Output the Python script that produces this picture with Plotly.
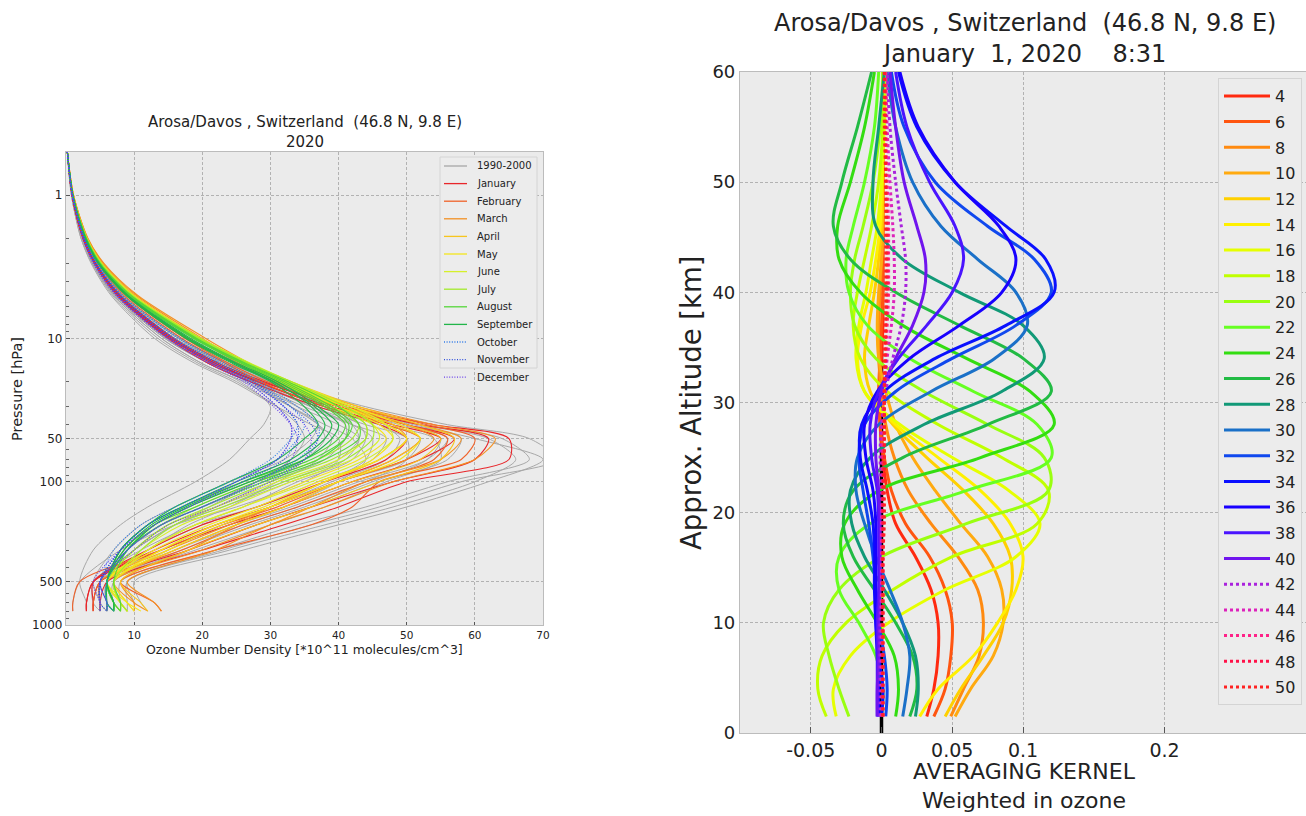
import plotly.graph_objects as go

# ---------------- LEFT PANEL DATA (ozone number density profiles) ----------------
PRESSURE_HPA = [0.5, 1, 2, 3, 5, 10, 15, 20, 30, 40, 50, 70, 100, 150, 200, 300, 500, 700, 800]

GREY_1990_2000 = [
    [0.2, 0.8, 2.2, 3.8, 6.8, 13.5, 19.5, 25, 31, 34, 35, 33, 28, 21, 16, 10, 5, 5, 5],
    [0.2, 0.9, 2.4, 4.0, 7.2, 14.5, 21, 27, 35, 42, 47, 45, 37, 28, 20, 12, 5, 5, 6],
    [0.2, 0.9, 2.6, 4.3, 7.8, 15.5, 22.5, 29, 40, 52, 64, 68, 56, 44, 34, 22, 8, 8, 8],
    [0.2, 1.0, 2.8, 4.6, 8.3, 16.5, 24, 31, 44, 56, 68, 72, 58, 46, 36, 23, 9, 10, 10],
    [0.2, 0.9, 2.5, 4.2, 7.5, 15, 21.5, 27.5, 36, 44, 50, 50, 44, 34, 26, 16, 6, 6, 7],
    [0.2, 1.0, 2.7, 4.5, 8.1, 16.5, 23.5, 30, 38, 43, 44, 42, 34, 26, 19, 12, 6, 7, 8],
    [0.2, 0.9, 2.4, 4.0, 7.2, 14.8, 21, 27, 33, 37, 38, 35, 28, 20, 14, 9, 5, 6, 6],
    [0.2, 0.9, 2.3, 3.9, 7.0, 14, 20, 25.5, 30, 29, 27, 24, 19, 12, 8, 4, 2, 3, 3],
    [0.2, 1.0, 2.6, 4.4, 8.0, 16, 23, 29.5, 40, 50, 58, 56, 46, 36, 28, 18, 7, 8, 9],
    [0.2, 0.9, 2.5, 4.1, 7.4, 15, 21.5, 27.5, 37, 46, 54, 55, 47, 38, 30, 19, 7, 7, 8],
    [0.2, 0.8, 2.2, 3.7, 6.6, 13, 19, 24.5, 31, 36, 40, 40, 35, 25, 16, 8, 2, 1, 1],
    [0.2, 1.0, 2.7, 4.5, 8.2, 16.5, 24, 31, 42, 52, 62, 66, 60, 48, 38, 24, 9, 9, 9],
    [0.2, 0.9, 2.5, 4.2, 7.6, 15.5, 22.5, 29, 39, 49, 56, 53, 43, 33, 25, 16, 6, 6, 7],
    [0.2, 0.9, 2.4, 4.1, 7.3, 14.8, 21, 27, 34, 40, 43, 41, 33, 23, 16, 10, 5, 5, 5],
    [0.2, 0.9, 2.5, 4.2, 7.5, 15.5, 22, 28, 36, 41, 41, 38, 30, 22, 16, 10, 5, 5, 6],
    [0.2, 1.0, 2.6, 4.4, 8.0, 16, 23.5, 30, 41, 51, 60, 70, 62, 50, 40, 26, 10, 11, 12],
    [0.2, 0.8, 2.3, 3.9, 7.0, 14, 20, 26, 33, 38, 42, 44, 40, 32, 24, 14, 5, 4, 4],
    [0.2, 0.9, 2.5, 4.2, 7.6, 15.2, 22, 28, 38, 47, 52, 50, 40, 30, 22, 14, 6, 6, 6],
    [0.2, 0.9, 2.5, 4.1, 7.4, 15, 21.5, 27.5, 36, 42, 45, 44, 38, 28, 19, 11, 4, 4, 5],
    [0.2, 1.0, 2.6, 4.3, 7.9, 16, 23, 29.5, 39, 46, 49, 47, 39, 30, 23, 15, 7, 8, 9],
    [0.2, 0.9, 2.4, 4.0, 7.2, 14.5, 21, 26.5, 33, 37, 39, 37, 31, 24, 18, 12, 6, 7, 7],
    [0.2, 1.0, 2.7, 4.6, 8.3, 16.8, 24, 31, 42, 50, 55, 53, 45, 35, 27, 17, 7, 8, 9],
    [0.2, 0.9, 2.4, 4.1, 7.4, 15.2, 22, 27.5, 34, 37, 36, 32, 24, 16, 11, 7, 4, 5, 5],
    [0.2, 1.0, 2.8, 4.8, 8.8, 17.5, 25, 30.5, 38, 42, 43, 40, 32, 22, 16, 10, 5, 6, 6],
]

JANUARY = [
    [0.2, 0.9, 2.6, 4.4, 8.0, 15.8, 22.5, 29, 40, 52, 62, 60, 48, 36, 28, 18, 5, 4, 4],
    [0.2, 0.9, 2.5, 4.2, 7.6, 15.3, 22, 28, 39, 50, 57, 52, 42, 32, 24, 14, 4, 3, 3],
    [0.2, 0.9, 2.6, 4.3, 7.8, 15.5, 22, 28.5, 41, 54, 65, 65, 50, 40, 32, 20, 6, 5, 5],
    [0.2, 0.9, 2.5, 4.2, 7.5, 15.0, 21, 27, 37, 46, 50, 47, 38, 28, 20, 12, 4, 4, 4],
    [0.2, 0.9, 2.5, 4.3, 7.7, 15.4, 21.5, 28, 38, 48, 55, 50, 40, 30, 22, 13, 4, 3, 3],
]
FEBRUARY = [
    [0.2, 1.0, 2.9, 4.9, 8.8, 17.5, 24, 29.5, 40, 50, 56, 54, 44, 34, 26, 17, 5, 4, 4],
    [0.2, 1.0, 2.8, 4.7, 8.5, 17, 23.5, 28.5, 38, 47, 52, 48, 40, 31, 23, 14, 2, 1, 1],
    [0.2, 1.0, 3.0, 5.0, 9.0, 18, 25, 30.5, 42, 53, 60, 58, 46, 42, 36, 22, 8, 13, 14],
]
MARCH = [
    [0.2, 1.1, 3.2, 5.5, 10.3, 20, 26.5, 31.5, 42, 52, 58, 55, 44, 36, 30, 20, 7, 10, 12],
    [0.2, 1.1, 3.2, 5.6, 10.5, 20.5, 27, 32, 41, 50, 54, 50, 40, 30, 24, 15, 5, 5, 5],
    [0.2, 1.1, 3.1, 5.4, 10.0, 19.5, 26.5, 32, 43, 54, 63, 60, 48, 38, 30, 22, 9, 13, 14],
    [0.2, 1.0, 3.0, 5.2, 9.6, 19, 25.5, 30.5, 40, 48, 50, 46, 38, 30, 25, 18, 8, 10, 10],
]
APRIL = [
    [0.2, 1.0, 3.0, 5.2, 9.8, 19.5, 26.5, 32, 42, 50, 55, 52, 42, 32, 25, 16, 7, 9, 10],
    [0.2, 1.0, 3.0, 5.1, 9.5, 19, 26, 31, 40, 47, 50, 46, 38, 30, 22, 14, 6, 8, 9],
    [0.2, 1.0, 3.1, 5.3, 10.0, 19.8, 27, 33, 43, 52, 57, 55, 46, 36, 28, 18, 8, 11, 12],
    [0.2, 1.0, 3.0, 5.1, 9.6, 19.2, 26, 31.5, 41, 48, 52, 48, 40, 32, 25, 16, 6, 8, 9],
]
MAY = [
    [0.2, 1.0, 3.0, 5.1, 9.6, 19.3, 26.5, 32, 41, 47, 50, 46, 37, 28, 21, 13, 6, 8, 9],
    [0.2, 1.0, 3.0, 5.2, 9.8, 19.6, 27, 32.5, 42, 49, 52, 49, 40, 30, 23, 15, 7, 9, 10],
    [0.2, 1.0, 2.9, 5.0, 9.4, 19, 26, 31, 39, 45, 47, 43, 35, 26, 19, 12, 6, 9, 11],
    [0.2, 1.0, 3.0, 5.1, 9.6, 19.4, 26.5, 31.5, 40, 46, 48, 45, 38, 29, 22, 14, 7, 8, 9],
]
JUNE = [
    [0.2, 1.0, 3.0, 5.1, 9.7, 19.6, 27, 32.5, 41, 45, 46, 42, 33, 24, 17, 11, 7, 8, 9],
    [0.2, 1.0, 3.0, 5.2, 9.8, 19.8, 27.2, 33, 42, 47, 48, 44, 36, 26, 19, 12, 7, 8, 9],
    [0.2, 1.0, 2.9, 5.0, 9.5, 19.3, 26.5, 32, 40, 44, 44, 40, 31, 22, 15, 10, 6, 8, 8],
]
JULY = [
    [0.2, 1.0, 3.0, 5.1, 9.6, 19.5, 26.8, 32.5, 40, 44, 44, 39, 30, 21, 15, 10, 6, 7, 8],
    [0.2, 1.0, 2.9, 5.0, 9.4, 19.2, 26.3, 32, 39, 43, 42, 37, 28, 19, 14, 9, 6, 7, 8],
    [0.2, 1.0, 3.0, 5.2, 9.7, 19.7, 27, 33, 41, 45, 45, 41, 32, 23, 16, 11, 7, 8, 9],
]
AUGUST = [
    [0.2, 1.0, 2.9, 5.0, 9.4, 19, 26.3, 32, 39, 42, 41, 36, 27, 18, 13, 9, 6, 7, 8],
    [0.2, 1.0, 2.9, 4.9, 9.2, 18.7, 25.8, 31, 38, 41, 40, 35, 26, 17, 12, 8, 6, 7, 7],
    [0.2, 1.0, 3.0, 5.0, 9.5, 19.2, 26.5, 32.5, 40, 43, 43, 38, 29, 20, 14, 9, 7, 8, 8],
    [0.2, 1.0, 2.9, 5.0, 9.3, 18.9, 26, 31.5, 38.5, 41.5, 41, 37, 28, 19, 13, 8.5, 6, 7, 7],
]
SEPTEMBER = [
    [0.2, 1.0, 2.8, 4.8, 9.0, 18, 25, 30.5, 36, 38, 37, 33, 25, 17, 12, 8, 6, 6, 7],
    [0.2, 1.0, 2.8, 4.7, 8.8, 17.6, 24.5, 30, 35, 37, 35, 31, 24, 16, 12, 8, 6, 6, 6],
    [0.2, 1.0, 2.9, 4.9, 9.1, 18.3, 25.3, 31, 37, 40, 39, 35, 27, 18, 13, 9, 6, 7, 7],
    [0.2, 1.0, 2.8, 4.8, 8.9, 17.8, 24.8, 30.3, 36.5, 39, 38, 34, 26, 17.5, 12.5, 8.5, 6, 7, 7],
]
OCTOBER = [
    [0.2, 0.95, 2.7, 4.5, 8.2, 16.5, 23, 28, 33, 35, 34, 31, 25, 17, 12, 8, 5, 6, 6],
    [0.2, 0.95, 2.6, 4.4, 8.0, 16, 22.5, 27.5, 32, 34, 33, 30, 24, 16, 11, 7, 5, 5, 5],
    [0.2, 1.0, 2.7, 4.6, 8.3, 16.8, 23.5, 28.5, 34, 37, 37, 34, 28, 20, 14, 9, 6, 6, 7],
]
NOVEMBER = [
    [0.2, 0.9, 2.6, 4.3, 7.8, 15.5, 22, 27, 32, 34, 34, 32, 26, 18, 13, 8, 5, 5, 6],
    [0.2, 0.9, 2.5, 4.2, 7.6, 15.2, 21.5, 26.5, 31, 33, 33, 31, 25, 17, 12, 8, 5, 5, 5],
    [0.2, 0.95, 2.6, 4.4, 7.9, 15.8, 22.5, 27.5, 33, 36, 37, 35, 29, 20, 14, 9, 5, 6, 6],
]
DECEMBER = [
    [0.2, 0.9, 2.5, 4.1, 7.4, 15, 21.3, 26.5, 31, 33, 33, 31, 25, 18, 13, 8, 4, 5, 5],
    [0.2, 0.9, 2.5, 4.0, 7.3, 14.8, 21, 26, 30.5, 33, 34, 33, 28, 20, 14, 9, 5, 5, 5],
    [0.2, 0.9, 2.6, 4.2, 7.6, 15.4, 21.8, 27, 32, 35, 36, 35, 30, 22, 15, 10, 5, 6, 6],
]

MONTH_NAMES = ["January", "February", "March", "April", "May", "June", "July",
               "August", "September", "October", "November", "December"]
MONTH_PROFILES = [JANUARY, FEBRUARY, MARCH, APRIL, MAY, JUNE, JULY, AUGUST,
                  SEPTEMBER, OCTOBER, NOVEMBER, DECEMBER]
MONTH_COLORS = ["#e8262a", "#f0622a", "#f39124", "#f7c51e", "#f5e61c", "#d6f02a",
                "#a3ea2c", "#55d63a", "#22b54a", "#2f7be8", "#2f4fdc", "#6a40ea"]
DOTTED = "1px,1.6px"
MONTH_DASH = ["solid"] * 9 + [DOTTED] * 3
GREY_COLOR = "#a8a8a8"
GREY_LABEL = "1990-2000"

# ---------------- RIGHT PANEL DATA (averaging kernels) ----------------
ALTITUDE_KM = [1.5, 4, 7, 10, 13, 16, 19, 22, 25, 28, 31, 34, 37, 40, 43, 46, 50, 55, 60]
KERNEL_LEVELS = [4, 6, 8, 10, 12, 14, 16, 18, 20, 22, 24, 26, 28, 30, 32, 34, 36, 38, 40,
                 42, 44, 46, 48, 50]
K4 = [0.032, 0.037, 0.040, 0.040, 0.035, 0.024, 0.010, 0.004, 0.001, -0.001, -0.001, 0.000, 0.001, 0.001, 0.001, 0.001, 0.001, 0.001, 0.001]
K6 = [0.037, 0.045, 0.049, 0.050, 0.045, 0.034, 0.017, 0.007, 0.002, -0.001, -0.002, -0.001, 0.000, 0.001, 0.001, 0.001, 0.001, 0.001, 0.001]
K8 = [0.049, 0.058, 0.069, 0.072, 0.068, 0.054, 0.035, 0.019, 0.009, 0.003, 0.000, -0.002, -0.002, -0.001, 0.000, 0.001, 0.001, 0.001, 0.001]
K10 = [0.052, 0.063, 0.079, 0.086, 0.085, 0.075, 0.056, 0.038, 0.022, 0.010, 0.003, -0.002, -0.003, -0.002, 0.000, 0.001, 0.001, 0.001, 0.001]
K12 = [0.045, 0.056, 0.072, 0.086, 0.092, 0.091, 0.079, 0.058, 0.032, 0.008, -0.008, -0.012, -0.009, -0.005, -0.002, 0.000, 0.001, 0.001, 0.001]
K14 = [0.027, 0.040, 0.065, 0.082, 0.095, 0.100, 0.091, 0.070, 0.040, 0.010, -0.012, -0.017, -0.014, -0.008, -0.004, -0.001, 0.000, 0.001, 0.001]
K16 = [-0.032, -0.034, -0.022, 0.005, 0.045, 0.095, 0.112, 0.090, 0.050, 0.013, -0.012, -0.018, -0.016, -0.011, -0.007, -0.003, 0.000, 0.002, 0.003]
K18 = [-0.039, -0.045, -0.042, -0.025, 0.008, 0.050, 0.110, 0.118, 0.085, 0.040, 0.004, -0.015, -0.020, -0.017, -0.012, -0.007, -0.002, 0.001, 0.002]
K20 = [-0.023, -0.030, -0.037, -0.041, -0.030, 0.000, 0.060, 0.118, 0.115, 0.075, 0.030, -0.004, -0.019, -0.022, -0.019, -0.013, -0.006, -0.001, 0.001]
K22 = [0.000, 0.001, -0.004, -0.016, -0.030, -0.030, -0.008, 0.060, 0.120, 0.110, 0.065, 0.020, -0.010, -0.023, -0.025, -0.020, -0.012, -0.005, -0.002]
K24 = [0.010, 0.012, 0.009, -0.003, -0.017, -0.028, -0.026, -0.002, 0.070, 0.122, 0.105, 0.060, 0.015, -0.015, -0.030, -0.031, -0.022, -0.012, -0.005]
K26 = [0.020, 0.025, 0.022, 0.010, -0.005, -0.020, -0.027, -0.020, 0.015, 0.075, 0.120, 0.100, 0.055, 0.010, -0.022, -0.034, -0.028, -0.017, -0.007]
K28 = [0.024, 0.026, 0.024, 0.015, 0.002, -0.012, -0.021, -0.022, -0.008, 0.030, 0.085, 0.115, 0.100, 0.055, 0.015, -0.004, -0.006, -0.002, 0.002]
K30 = [0.015, 0.018, 0.020, 0.015, 0.006, -0.004, -0.012, -0.018, -0.017, -0.002, 0.035, 0.080, 0.103, 0.095, 0.068, 0.042, 0.022, 0.010, 0.004]
K32 = [0.003, 0.004, 0.002, -0.002, -0.004, -0.006, -0.009, -0.013, -0.016, -0.012, 0.010, 0.050, 0.095, 0.120, 0.108, 0.075, 0.038, 0.016, 0.007]
K34 = [0.000, 0.001, -0.002, -0.004, -0.005, -0.005, -0.006, -0.010, -0.015, -0.014, 0.002, 0.038, 0.088, 0.122, 0.116, 0.088, 0.052, 0.025, 0.012]
K36 = [-0.002, -0.002, -0.003, -0.004, -0.004, -0.004, -0.004, -0.006, -0.011, -0.012, -0.003, 0.020, 0.055, 0.085, 0.095, 0.083, 0.052, 0.026, 0.013]
K38 = [-0.003, -0.003, -0.003, -0.003, -0.002, -0.002, -0.002, -0.003, -0.007, -0.008, -0.002, 0.012, 0.032, 0.050, 0.058, 0.052, 0.034, 0.018, 0.010]
K40 = [-0.003, -0.003, -0.002, -0.002, -0.001, -0.001, -0.001, -0.002, -0.004, -0.004, 0.000, 0.010, 0.022, 0.030, 0.031, 0.025, 0.016, 0.010, 0.006]
K42 = [-0.001, -0.001, -0.001, -0.001, 0.000, 0.000, 0.000, 0.000, -0.001, 0.000, 0.003, 0.008, 0.014, 0.017, 0.017, 0.014, 0.010, 0.006, 0.004]
K44 = [0.000, 0.000, 0.000, 0.000, 0.000, 0.000, 0.000, 0.001, 0.001, 0.001, 0.002, 0.004, 0.007, 0.009, 0.009, 0.008, 0.006, 0.004, 0.003]
K46 = [0.001, 0.001, 0.001, 0.001, 0.001, 0.001, 0.001, 0.001, 0.001, 0.002, 0.002, 0.003, 0.004, 0.005, 0.005, 0.005, 0.004, 0.003, 0.003]
K48 = [0.001, 0.001, 0.001, 0.001, 0.001, 0.001, 0.001, 0.001, 0.002, 0.002, 0.002, 0.003, 0.003, 0.004, 0.004, 0.004, 0.003, 0.003, 0.002]
K50 = [0.001, 0.001, 0.001, 0.001, 0.001, 0.001, 0.002, 0.002, 0.002, 0.002, 0.002, 0.002, 0.003, 0.003, 0.003, 0.003, 0.003, 0.002, 0.002]
KERNELS = [K4, K6, K8, K10, K12, K14, K16, K18, K20, K22, K24, K26, K28, K30, K32, K34,
           K36, K38, K40, K42, K44, K46, K48, K50]
KERNEL_COLORS = ["#ff2a10", "#ff5510", "#ff8a10", "#ffaa10", "#ffd000", "#fff000",
                 "#e6ff00", "#c0ff00", "#99ff10", "#66ff22", "#33dd11", "#22bb44",
                 "#119977", "#1a70c8", "#1048ee", "#0a10ff", "#1800ff", "#4a14ff",
                 "#7014ee", "#aa22dd", "#dd22bb", "#ff2288", "#ff1148", "#ff2222"]
ZERO_LINE_ALT = [0, 35]

# ---------------- geometry helpers (page pixels -> paper fractions) ----------------
W, H = 1306, 816


def px(x):
    return x / W


def py(y):
    return 1 - y / H


fig = go.Figure()

# ---- left panel traces ----
for prof in GREY_1990_2000:
    fig.add_trace(go.Scatter(
        x=prof, y=PRESSURE_HPA, mode="lines", xaxis="x", yaxis="y",
        line=dict(color=GREY_COLOR, width=1, shape="spline", smoothing=0.8),
        showlegend=False, hoverinfo="skip"))

for name, profs, col, dash in zip(MONTH_NAMES, MONTH_PROFILES, MONTH_COLORS, MONTH_DASH):
    for prof in profs:
        fig.add_trace(go.Scatter(
            x=prof, y=PRESSURE_HPA, mode="lines", xaxis="x", yaxis="y",
            line=dict(color=col, width=1.1, dash=dash, shape="spline", smoothing=0.8),
            name=name, showlegend=False))

# ---- right panel traces ----
fig.add_trace(go.Scatter(
    x=[0, 0], y=ZERO_LINE_ALT, mode="lines", xaxis="x2", yaxis="y2",
    line=dict(color="black", width=3.5), showlegend=False, hoverinfo="skip"))

for lev, kern, col in zip(KERNEL_LEVELS, KERNELS, KERNEL_COLORS):
    fig.add_trace(go.Scatter(
        x=kern, y=ALTITUDE_KM, mode="lines", xaxis="x2", yaxis="y2",
        line=dict(color=col, width=3, dash="dot" if lev > 40 else "solid",
                  shape="spline", smoothing=1.0),
        name=str(lev), legendgroup="k%d" % lev))

GRID = dict(showgrid=True, gridcolor="#b2b2b2", gridwidth=0.8, griddash="3px,2px")
axis_common = dict(showline=True, linecolor="#bcbcbc", linewidth=1.2, mirror=True,
                   zeroline=False, tickcolor="#555555", automargin=False, **GRID)

fig.update_layout(
    template="none",
    width=W, height=H, autosize=False,
    margin=dict(l=0, r=0, t=0, b=0, pad=0, autoexpand=False),
    paper_bgcolor="white", plot_bgcolor="#ebebeb",
    font=dict(family="DejaVu Sans", color="#222222"),
    xaxis=dict(domain=[px(66), px(543)], range=[0, 70], anchor="y",
               tickvals=[0, 10, 20, 30, 40, 50, 60, 70], ticks="inside", ticklen=3,
               tickfont=dict(size=10.5), **axis_common),
    yaxis=dict(domain=[py(625), py(152)], type="log", range=[3, -0.301], anchor="x",
               tickvals=[1, 10, 50, 100, 500, 1000],
               ticktext=["1", "10", "50", "100", "500", "1000"],
               ticks="inside", ticklen=4, tickfont=dict(size=12),
               minor=dict(tickvals=[2, 3, 4, 5, 6, 7, 8, 9, 20, 30, 40, 60, 70, 80, 90,
                                    200, 300, 400, 600, 700, 800, 900],
                          ticks="inside", ticklen=3, tickcolor="#666666", showgrid=False),
               **axis_common),
    xaxis2=dict(domain=[px(740), 1.0], range=[-0.1, 0.3], anchor="y2",
                tickvals=[-0.05, 0, 0.05, 0.1, 0.2],
                ticktext=["-0.05", "0", "0.05", "0.1", "0.2"],
                ticks="inside", ticklen=6, tickfont=dict(size=19), **axis_common),
    yaxis2=dict(domain=[py(733), py(72)], range=[0, 60], anchor="x2",
                tickvals=[0, 10, 20, 30, 40, 50, 60], ticks="", tickfont=dict(size=18),
                **axis_common),
    legend=dict(x=px(1302), y=py(78), xanchor="right", yanchor="top",
                bgcolor="#ececec", bordercolor="#d4d4d4", borderwidth=1,
                font=dict(size=16, color="#222222"), tracegroupgap=1.9, itemwidth=46),
    showlegend=True,
)

# ---- hand-built legend for the left panel ----
LEG_X0, LEG_X1, LEG_Y0, LEG_Y1 = 440, 537, 157, 368
ROW0, ROW_STEP = 166, 17.6
fig.add_shape(type="rect", xref="paper", yref="paper",
              x0=px(LEG_X0), x1=px(LEG_X1), y0=py(LEG_Y1), y1=py(LEG_Y0),
              fillcolor="#ececec", line=dict(color="#d4d4d4", width=1), layer="above")
leg_labels = [GREY_LABEL] + MONTH_NAMES
leg_colors = [GREY_COLOR] + MONTH_COLORS
leg_dash = ["solid"] + MONTH_DASH
for i, (lab, col, dsh) in enumerate(zip(leg_labels, leg_colors, leg_dash)):
    yy = ROW0 + i * ROW_STEP
    fig.add_shape(type="line", xref="paper", yref="paper",
                  x0=px(444), x1=px(467), y0=py(yy), y1=py(yy),
                  line=dict(color=col, width=1.3, dash=dsh), layer="above")
    fig.add_annotation(xref="paper", yref="paper", x=px(475), y=py(yy), text=lab,
                       showarrow=False, xanchor="left", yanchor="middle",
                       font=dict(size=10, color="#222222"))

NB = "\u00a0"
annos = [
    dict(text="Arosa/Davos , Switzerland" + NB * 2 + "(46.8 N, 9.8 E)<br>2020",
         x=px(304.5), y=py(132.5), font=dict(size=15)),
    dict(text="Ozone Number Density [*10^11 molecules/cm^3]", x=px(304.5), y=py(649),
         font=dict(size=12.5)),
    dict(text="Pressure [hPa]", x=px(17), y=py(389), textangle=-90, font=dict(size=14.5)),
    dict(text="Arosa/Davos , Switzerland" + NB * 2 + "(46.8 N, 9.8 E)<br>January" + NB * 2
         + "1, 2020" + NB * 4 + "8:31", x=px(1025), y=py(38.5), font=dict(size=24)),
    dict(text="Approx. Altitude [km]", x=px(691), y=py(403), textangle=-90, font=dict(size=27.5)),
    dict(text="AVERAGING KERNEL<br>Weighted in ozone", x=px(1024), y=py(786),
         font=dict(size=22)),
]
for a in annos:
    fig.add_annotation(xref="paper", yref="paper", showarrow=False,
                       xanchor="center", yanchor="middle", **a)

fig.write_html("out.html")
